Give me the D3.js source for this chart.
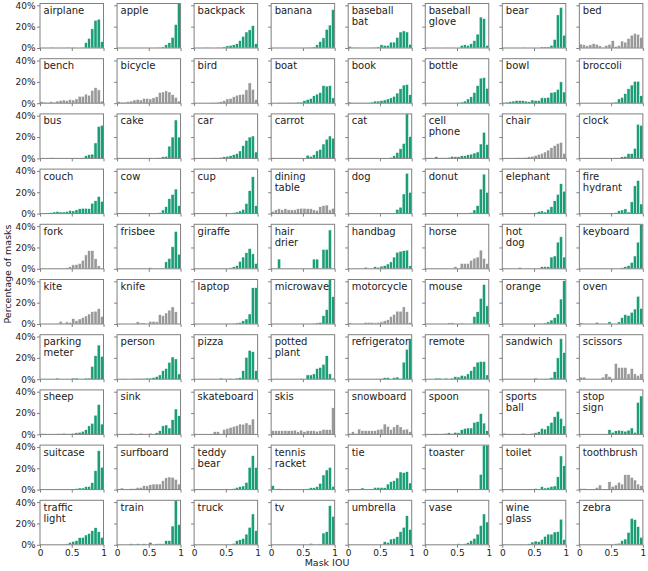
<!DOCTYPE html>
<html><head><meta charset="utf-8">
<script src="https://cdn.jsdelivr.net/npm/d3@7"></script>
<style>body{margin:0;background:#fff}svg{display:block}</style>
</head><body>
<svg id="chart" width="648" height="571"></svg>
<script>
const categories = ["airplane","apple","backpack","banana","baseball bat","baseball glove","bear","bed",
"bench","bicycle","bird","boat","book","bottle","bowl","broccoli",
"bus","cake","car","carrot","cat","cell phone","chair","clock",
"couch","cow","cup","dining table","dog","donut","elephant","fire hydrant",
"fork","frisbee","giraffe","hair drier","handbag","horse","hot dog","keyboard",
"kite","knife","laptop","microwave","motorcycle","mouse","orange","oven",
"parking meter","person","pizza","potted plant","refrigerator","remote","sandwich","scissors",
"sheep","sink","skateboard","skis","snowboard","spoon","sports ball","stop sign",
"suitcase","surfboard","teddy bear","tennis racket","tie","toaster","toilet","toothbrush",
"traffic light","train","truck","tv","umbrella","vase","wine glass","zebra"];
const grayCategories = ["bed","bench","bicycle","bird","chair","dining table","fork","horse","kite","knife",
"motorcycle","scissors","skateboard","skis","snowboard","surfboard","toothbrush"];
const xTicks = [0, 0.5, 1];
const xTickLabels = ["0", "0.5", "1"];
const yTicks = [0, 20, 40];
const yTickLabels = ["0%", "20%", "40%"];
const binWidth = 0.05;

// percentage of masks per IOU bin (20 bins of 0.05), one list per panel row
const pctRow0 = [
[0,0,0,0.5,0,0,0,0,0.5,0,0.5,0,0,0.5,5,9,18,26,27,6],
[0,0,0,0,0,0,0,0,0,0,0,0,0.5,0.5,1,3,5,10,22,45],
[0,0,0,0.5,0.5,0,0,0.5,0.5,1,2,2.5,3,4,7,11,15,17,21,4],
[0,0,0,0,0,0,0,0,0,0,0,0.5,0.5,1,3,6,9.5,17.5,21.5,36],
[1.5,0.5,0.5,0,0,0,0,0.5,0.5,1,3,2.5,2.5,5.5,5.5,10,15,16,15,3.5],
[0,0,0,0,0,0,0.3,0,0,0,0,2.5,3,2.5,4,7,13,29,27.5,2.5],
[0,0,0,0,0,0,0.5,0,0,0,0,0,1,1,1,2.5,8,31,38,12],
[3.7,3,2,3,4,3.5,2,0.5,2.5,3.5,6.8,1.5,2.5,6.5,5.5,9,12,13.7,12.8,10]];
const pctRow1 = [
[1.5,1,0.5,1.5,1,2,2.5,3,2.5,3.5,3,4,6.5,6.5,8.5,7.5,12,14.5,12.5,2],
[1.5,1,1,1.5,2,3,3.5,3,4.5,4.5,4,5,6,10,10.5,11.5,10.5,8,5.5,2],
[0,0,0,0,0,0.5,0.5,1,1.5,2.5,4,4.5,6,7.5,8,8.5,12.5,19,13,3.5],
[0,0,0.3,0.3,0.3,0.5,0.5,0.5,1,1,2.5,3.5,4.5,7,8.5,10,16.5,16,16.5,5],
[1,0.3,0.3,0.3,0.3,0.3,0.5,1,2,2,2.5,3,4,5,6.5,9.5,13.5,17,17.5,8],
[0,0,0,0,0,0,0,0,0,0,0.5,1,2,4,6,10,16.5,23.5,24,14],
[0.5,1,1.5,2,2.5,2.5,2.5,2,1.5,3,2.5,2.5,5,5,5.5,10,10.5,13,20,10.5],
[0,0,0,0,0,0,0,0,0,0,0.5,1,4,5.5,9,13.5,17,20.5,20.5,7]];
const pctRow2 = [
[0,0,0,0.5,0,0,0,0,0,0.3,0.3,0.3,0.3,0.5,2.5,3.5,4,14.5,30,31],
[0,0,0,0,0,0,0,0,0,0,0.5,0,0.5,0.5,1.5,2,11.5,20,36,20],
[0,0,0,0,0.3,0.3,0.5,0.5,1,1.5,2,2.5,3.5,4.5,7,12,17,20,21,6],
[0,0,0,0,0,0,0,0,0,0,0.3,3,2,3.5,7,8.5,13.5,18,21,19],
[0,0,0,0,0,0,0,0,0,0,0,0,0,1,2.5,5.5,9,14,45,20.5],
[0.5,0.5,0,1.5,0.3,0.5,0.5,1,2,1.5,1.5,2.5,2.5,3.5,4,5,6,13.5,24.5,13],
[0.3,0.3,0.3,0.3,0.5,0.5,0.5,1,1.5,2,2.8,3.7,4.7,6,7.8,10,12,14,15,4.7],
[0,0,0,0,0,0,0,0,0,0,0.3,0.5,0.5,1.5,2,4.5,4.5,9.5,32,31]];
const pctRow3 = [
[0,0.3,0.5,1,1.5,2,1.5,1.5,2,3,2.5,3.5,4.5,5,5,4.7,9.7,12,16,11.5],
[0.5,0,0.3,0,0,0,0.3,0,0.5,0,0.5,0,0.5,1,3.4,6.5,14,18,23,7.5],
[0,0,0,0,0,0,0,0,0,0,0.5,0.3,1,1.5,2.5,4,9.5,21.5,34.5,7.5],
[2,3.5,4.5,3.5,4.5,3.5,3.5,3.5,4.5,5,5,4.5,4.5,3.5,3,6.5,7.5,8,3.5,5],
[0,0,0,0,0.5,0.3,0,0,0,0,0.5,0.5,0,0.3,0.5,4,6,18.4,37.8,20],
[0,0,0,0,0,0,0,0,0,0,0,0.3,0.3,0.5,1,3.4,7.5,23,37,20],
[0,0,0,0,0,0,0,0,0.3,0.5,1,2,2.5,1.5,4,6.5,12,18,28,21],
[0,0,0,0,0,0,0,0,0,0,0.3,1,2.8,3.4,4.4,1.5,11,26,31,9]];
const pctRow4 = [
[0,0,0,0.5,0,0.3,0.5,0.5,1,2,3.7,4,5,8,13,17,17,9.4,2.8,0.5],
[0,0,0,0,0.3,0,0,0,0.3,0,1,0,0.3,0.5,0.5,6.5,9.7,20.6,35,13.7],
[0,0,0,0,0,0,0,0,0,0,0.3,1,2,3,7,11,15,19,14,5],
[0,0,9.1,0,0,0,0,0,0,0,0,0,0,9.1,9.1,0,18.2,18.2,36.4,0],
[0,0,0,0.3,0.3,1.5,0.3,0.5,2,1.5,2.5,3,4.5,6.5,11,15.5,16.5,17,17.5,2.8],
[0.3,0.5,0,0.3,0,0,0.3,0,0.5,2,0.5,5,5,5,8,10,11,17.5,9.7,5],
[0,0,0,0,0,1.3,0,0,0,0,0.5,0,2,2,2,11,12,25,30,11],
[0,0,0,0,0,0,0,0,0,0,0.5,0.3,0.5,1,2,3,6,12,25,45]];
const pctRow5 = [
[0,0,0,0,0,0.5,2.5,0,2,1.5,5,3,4.7,6,7.5,9.4,11.5,12,14.4,7.2],
[0,0,0,0,0,0.5,2,1,1,0.3,2.5,2.5,2,8.8,7.8,10.3,13,16,11.5,0],
[0.3,0,0,0.3,0,0,0.3,0,0.3,0,0.3,0,0.5,1,1.5,3,4.7,9.4,34,34],
[0,0,0,0,0,0,0,0,0,0,0,0,0,0.5,1,1.5,7.8,13.4,45,25.6],
[1,0,0.5,0.5,0.5,1.5,1.5,1.5,1,1.5,2,3,4,7,9,12,12,16,11.5,1.5],
[0,0,0,0,0,0,0,1,1,0,0,0.8,0,0,0,7,11.5,24,37,17],
[0,0,0,0,0,0,0,0,0,0,0.3,0.5,0.5,1,2,3.7,6,9.4,23.4,40.6],
[1,0,0,0,0,1.5,0,0,0,2,0,0,2,6,8.8,8,11,14,26,14.7]];
const pctRow6 = [
[0,0,0,0,0,1,0,0,0,0,1,1,0,0,1,1,12,22,32,21.5],
[0,0,0.3,0,0,0.3,0.3,0.5,0.5,1,1,1.5,2.5,4,8,10,15.8,20.8,19,4.9],
[0,0,0,0,0,0,0,0,1,0,0,0.5,0,1,1.5,8,20.5,27,25.8,8],
[0,0,0,0,0,0,0,0,0,0.5,0,4,4,5,10,11,14,22,5,1],
[0,0,0,0,0,0,0,0,0,0.3,0.3,1.5,1.5,0,1.5,2,0.5,16,28,38],
[0,0,0,1,1,0,1,0,1,2.4,2,3.6,3,5,8,11.8,16,16.7,16.5,4],
[0,0,0,0,0,0,0,0,0,0,1,0,0,0.3,0.5,1.5,7,20,38,25],
[2,2,0,0,0,0,0,2,5,2.5,0,14.8,11,11,11,5,10,5,3.5,5]];
const pctRow7 = [
[0.5,0.5,0,0,0.3,0.5,0.5,1,0.5,0.5,1,1.5,2,2.9,4.4,8,10.4,18,28,9.7],
[0,0,0,0,1,0.5,0,1,0,0,1,0,1.5,3.5,8,8.8,6,13.8,23.8,17.5],
[0,0,0,0,0,0,2.5,2.5,0.5,4.7,5.6,6.6,7.5,8.2,9.7,9.5,10.7,9,14.4,0],
[3.5,3.5,3.5,3.5,3.5,3.5,3.5,4,2.5,4,2.5,3.5,3.5,3.5,3,3.5,4.7,4.5,4.5,25],
[1,2.5,1,5,3.5,3.5,3.5,3.5,3.5,4.5,5,9.7,7.5,4.5,7,9,7,4.5,5,2.5],
[0,0,0,0.5,0,0.5,1,1.5,1,2,1.5,4.4,5.6,6,6,11.3,12,19.5,10.6,3.5],
[1,0,0,0,0,0,1,0,0,1,1.5,2.5,5.6,5,8,11.3,16.6,21.6,15,8],
[0,0,0,0,0,0,0,0,0,4.4,2,3.4,4,3.4,3,4,6,2,30,36]];
const pctRow8 = [
[0,0,0,0,0,0.3,0,0,0.3,0,0.5,1,1.5,1.5,2.8,3,6.5,17.7,36.5,21],
[0,1.5,0,0,1,1,2,2,3.7,3.5,4.6,5.2,5.2,5.2,8.4,11,11.8,11.5,9.6,5.2],
[0.3,0,0,0,0,0,0,0.3,0,0,0,0.5,1,2,2.8,3.4,6.8,20.9,31.8,20.9],
[3.7,0,0.8,0,0,0,0,0,0,0,0,0.8,1.8,1.8,2.8,5.9,13.7,18.4,20.9,3],
[0,0,0,0.5,1.5,0,0,0,2,2,2,1.8,5.2,7.4,8.4,10.9,16.5,15.9,16.8,6.2],
[0,0,0,0,0,0,0,0,0,0,0,0,0,0,0,0,0,14.3,42.9,42.9],
[0.5,0,0,0,0,0.5,0,0,0.5,0.5,1,0.5,2.8,1.5,2,3,3.4,12,31.5,22.4],
[1,1,0,0,0,2,4.3,0,0,7.4,3,4.3,6.8,5.2,14,14,11.5,9,5.2,3.7]];
const pctRow9 = [
[0,0,0,0,0,0.3,0.3,0.5,1,2.3,3.2,3.9,6.7,7,9.2,10.7,13.2,16,12.3,7],
[0,0,0,0,1,0,1,0,1,0,2.3,0.5,1,1,1,3.9,3.9,17.6,45,19],
[0,0,0,0,0,0,0,0,0,0,0,0,1.3,3.9,4.8,6,10,16.4,28.9,13.3],
[0,0,0,0,0,0,0,0,0,0,0,0,1.3,0,0,0.8,11,12.3,36.7,26.7],
[0,0,0,0,0,0,0,0,0,0,0,3,2.3,5.4,6,7.6,12.3,16.4,27.3,14.5],
[0,0,0,0,0,0,0,0,0,0,1,0,1,2,3.9,6,10,18,28.9,21.4],
[0,0,0,0.5,0,0.5,0,0,1,2.6,3.5,3,5,8,10,10,12,12.3,24,5],
[0,0,0,0,0,0,0,0,0,0.5,0.5,1,1.5,3.9,5.4,11.7,24.8,23.6,17,7]];

const pctRows = [pctRow0,pctRow1,pctRow2,pctRow3,pctRow4,pctRow5,pctRow6,pctRow7,pctRow8,pctRow9];

const nCols = 8;
const left0 = 40, colPitch = 77.05, panelW = 63.5;
const top0 = 3.5, rowPitch = 55.2, panelH = 44.5;
const yMax = 41.7;
const green = "#1b9e77", gray = "#999999", spine = "#808080";
const font = "'DejaVu Sans', sans-serif";

const svg = d3.select("#chart");
const nRows = pctRows.length;

categories.forEach((cat, k) => {
  const r = Math.floor(k / nCols), c = k % nCols;
  const values = pctRows[r][c];
  const x0 = left0 + c * colPitch, y0 = top0 + r * rowPitch;
  const x = d3.scaleLinear().domain([0, 1]).range([x0, x0 + panelW]);
  const y = d3.scaleLinear().domain([0, yMax]).range([y0 + panelH, y0]).clamp(true);
  const g = svg.append("g");
  const fill = grayCategories.includes(cat) ? gray : green;

  g.selectAll("rect.bar").data(values.map((v, i) => ({i, v})).filter(d => d.v > 0))
    .join("rect").attr("class", "bar")
    .attr("x", d => x(d.i * binWidth))
    .attr("width", d => x((d.i + 1) * binWidth) - x(d.i * binWidth))
    .attr("y", d => y(d.v))
    .attr("height", d => y(0) - y(d.v))
    .attr("fill", fill)
    .attr("stroke", "#ffffff").attr("stroke-width", 0.5);

  g.append("rect").attr("x", x0).attr("y", y0).attr("width", panelW).attr("height", panelH)
    .attr("fill", "none").attr("stroke", spine).attr("stroke-width", 1);

  const ya = d3.axisLeft(y).tickValues(yTicks).tickSize(3).tickPadding(1.5)
    .tickFormat((d, i) => c === 0 ? yTickLabels[i] : "");
  const yg = g.append("g").attr("transform", `translate(${x0},0)`).call(ya);
  const xa = d3.axisBottom(x).tickValues(xTicks).tickSize(3).tickPadding(1.5)
    .tickFormat((d, i) => r === nRows - 1 ? xTickLabels[i] : "");
  const xg = g.append("g").attr("transform", `translate(0,${y0 + panelH})`).call(xa);
  [yg, xg].forEach(a => {
    a.select(".domain").remove();
    a.selectAll(".tick line").attr("stroke", spine);
    a.selectAll(".tick text").attr("fill", "#222").style("font-family", font).style("font-size", "9px");
  });

  const lines = cat.split(" ");
  const t = g.append("text").attr("x", x0 + 3.5).attr("y", y0 + 10.5)
    .style("font-family", font).style("font-size", "10px").attr("fill", "#222");
  lines.forEach((ln, j) => t.append("tspan").attr("x", x0 + 3.5).attr("dy", j === 0 ? 0 : 11).text(ln));
});

svg.append("text").attr("x", 327).attr("y", 566).attr("text-anchor", "middle")
  .style("font-family", font).style("font-size", "9.5px").attr("fill", "#222").text("Mask IOU");
svg.append("text").attr("transform", "translate(11,274) rotate(-90)").attr("text-anchor", "middle")
  .style("font-family", font).style("font-size", "9.5px").attr("fill", "#222").text("Percentage of masks");
</script>
</body></html>
